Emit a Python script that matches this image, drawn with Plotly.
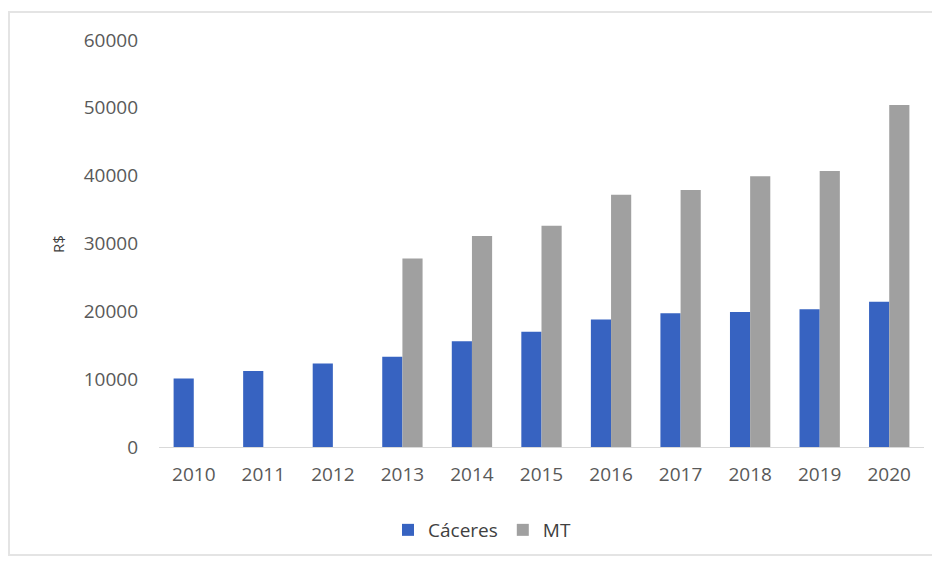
import plotly.graph_objects as go

years = ["2010", "2011", "2012", "2013", "2014", "2015", "2016", "2017", "2018", "2019", "2020"]
caceres = [10100, 11200, 12300, 13300, 15600, 17000, 18800, 19700, 19900, 20300, 21400]
mt = [None, None, None, 27800, 31100, 32600, 37200, 37900, 39900, 40700, 50400]
y_ticks = [0, 10000, 20000, 30000, 40000, 50000, 60000]
y_tick_text = ["0", "10000", "20000", "30000", "40000", "50000", "60000"]

OFF = 8  # browser body margin
W, H = 940 - OFF, 562 - OFF
L, R, T, B = 159 - OFF, 16, 40 - OFF, 115
pw, ph = W - L - R, H - T - B


def px(x):
    return (x - OFF - L) / pw


def py(y):
    return (T + ph - (y - OFF)) / ph


fig = go.Figure()
fig.add_trace(go.Bar(x=years, y=caceres, name="Cáceres", marker=dict(color="#3763C1", line=dict(width=0))))
fig.add_trace(go.Bar(x=years, y=mt, name="MT", marker=dict(color="#A0A0A0", line=dict(width=0))))

font = "Open Sans, sans-serif"
fig.update_layout(
    width=W, height=H,
    margin=dict(l=L, r=R, t=T, b=B, autoexpand=False),
    paper_bgcolor="white", plot_bgcolor="white",
    barmode="group", bargap=0.42, bargroupgap=0,
    font=dict(family=font, color="#595959", size=19),
    showlegend=True,
    legend=dict(orientation="h", x=px(482), xanchor="center",
                y=py(530), yanchor="middle",
                font=dict(size=19, color="#404040"), itemwidth=30,
                bgcolor="rgba(0,0,0,0)"),
    xaxis=dict(type="category", showgrid=False, showline=True, linecolor="#D9D9D9",
               linewidth=1, ticks="", tickfont=dict(size=19, color="#595959"),
               ticklabelstandoff=10),
    yaxis=dict(range=[0, 60000], tickvals=y_ticks, ticktext=y_tick_text, showgrid=False,
               zeroline=False, showline=False, ticks="",
               tickfont=dict(size=19, color="#595959"), ticklabelstandoff=20),
    annotations=[dict(text="R$", textangle=-90, xref="paper", yref="paper",
                      x=px(58), y=py(244), showarrow=False,
                      xanchor="center", yanchor="middle",
                      font=dict(size=15, color="#404040", family=font))],
    shapes=[dict(type="rect", xref="paper", yref="paper",
                 x0=px(9), x1=px(936), y0=py(555), y1=py(12),
                 line=dict(color="#E4E4E4", width=2), fillcolor="rgba(0,0,0,0)",
                 layer="below")],
)

fig.write_html("out.html")
